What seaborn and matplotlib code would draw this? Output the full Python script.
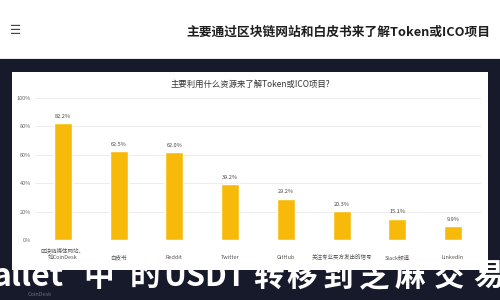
import matplotlib
matplotlib.use("Agg")
import matplotlib.pyplot as plt
import seaborn as sns
import pandas as pd
from matplotlib.patches import Rectangle

categories = ["区块链媒体网站、\n如CoinDesk", "白皮书", "Reddit", "Twitter", "GitHub",
              "关注专业买方发出的信号", "Slack频道", "LinkedIn"]
values = [82.2, 62.5, 62.0, 39.2, 29.2, 20.3, 15.1, 9.9]
yticks = [0, 20, 40, 60, 80, 100]
ytick_labels = ["0%", "20%", "40%", "60%", "80%", "100%"]
header_title = "主要通过区块链网站和白皮书来了解Token或ICO项目"
chart_title = "主要利用什么资源来了解Token或ICO项目?"
overlay_latin = "allet"
overlay_chars = ["中", "的", "USDT", "转", "移", "到", "芝", "麻", "交", "易"]

sns.set_theme(style="white")
plt.rcParams['font.family'] = ['Noto Sans CJK SC', 'DejaVu Sans']

W, H = 500, 300
fig = plt.figure(figsize=(5, 3), dpi=100)
fig.patch.set_facecolor('white')

def fx(x):
    return x / W

def fy(y):
    return 1 - y / H

# dark background below header
fig.patches.append(Rectangle((0, 0), 1, fy(59), transform=fig.transFigure,
                             facecolor='#171a2b', edgecolor='none', zorder=0))
# header separator line
fig.patches.append(Rectangle((0, fy(59)), 1, 1.2 / H, transform=fig.transFigure,
                             facecolor='#e6eaf0', edgecolor='none', zorder=0))
# white panel
fig.patches.append(Rectangle((fx(12), fy(270)), 476 / W, 198 / H, transform=fig.transFigure,
                             facecolor='white', edgecolor='none', zorder=0.5))

# header
fig.text(fx(10), fy(30), "☰", ha='left', va='center', fontsize=9, color='#444',
         family=['DejaVu Sans'])
fig.text(fx(490), fy(32), header_title, ha='right', va='center', fontsize=9.2,
         fontweight='bold', color='#1e1e1e')

# chart
ax = fig.add_axes([fx(35), fy(240), 446 / W, 142 / H])
ax.set_zorder(2)
ax.set_facecolor('white')
df = pd.DataFrame({"source": categories, "share": values})
sns.barplot(data=df, x="source", y="share", color="#F7BA0B", saturation=1,
            width=0.32, ax=ax)
ax.bar_label(ax.containers[0], labels=[f"{v:.1f}%" for v in values],
             fontsize=4, padding=3, color='#444')
ax.set_ylim(0, 100)
ax.set_xlim(-0.5, len(categories) - 0.5)
ax.set_yticks(yticks)
ax.set_yticklabels(ytick_labels, fontsize=4, color='#666')
ax.tick_params(axis='y', length=0, pad=3)
ax.tick_params(axis='x', length=0, pad=14.5)
for lbl in ax.get_xticklabels():
    lbl.set_fontsize(4)
    lbl.set_color('#555')
    lbl.set_va('bottom')
    lbl.set_linespacing(1.4)
ax.yaxis.grid(True, color='#e6e6e6', linewidth=0.5)
ax.set_axisbelow(True)
for s in ax.spines.values():
    s.set_visible(False)
ax.set_xlabel("")
ax.set_ylabel("")

fig.text(fx(250), fy(84), chart_title, ha='center', va='center', fontsize=6, color='#333')

# overlay title text
fig.text(fx(-8), fy(277), overlay_latin, ha='left', va='center', fontsize=23,
         fontweight='heavy', color='white', zorder=10)
xs = [99, 145, 205, 268, 302, 338, 374, 410, 449, 489]
for x, c in zip(xs, overlay_chars):
    fig.text(fx(x), fy(277), c, ha='center', va='center', fontsize=22,
             fontweight='heavy', color='white', zorder=10)
fig.text(fx(28), fy(294), "CoinDesk", ha='left', va='center', fontsize=4,
         color='#6a6d7a', zorder=9)

fig.savefig("out.png", dpi=100)
